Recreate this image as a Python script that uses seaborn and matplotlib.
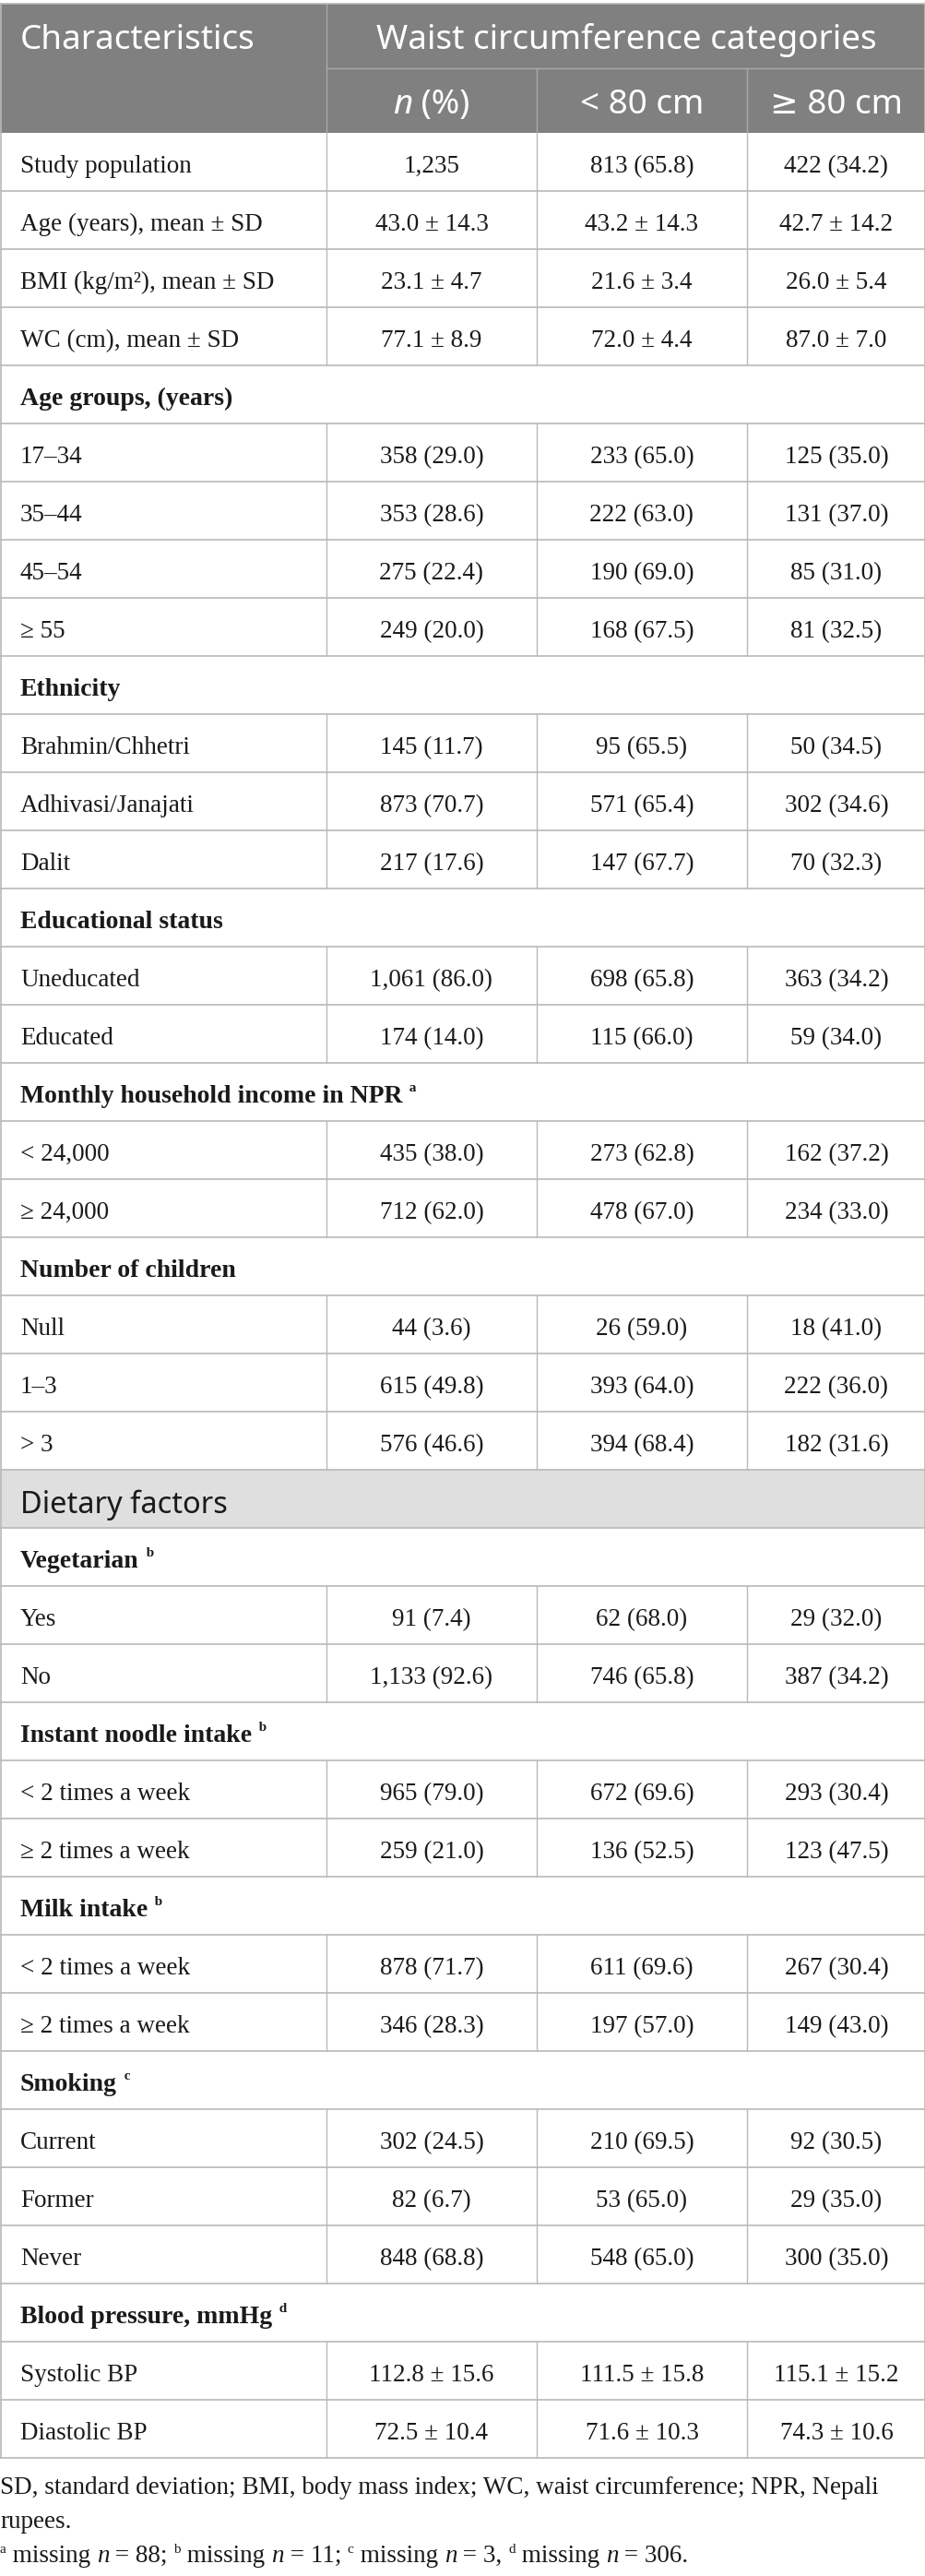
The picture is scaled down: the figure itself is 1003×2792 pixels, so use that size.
import matplotlib
matplotlib.use("Agg")
import matplotlib.pyplot as plt
import seaborn as sns

# table content, one entry per body row
labels = ["Study population", "Age (years), mean ± SD", "BMI (kg/m²), mean ± SD", "WC (cm), mean ± SD",
          "Age groups, (years)", "17–34", "35–44", "45–54", "≥ 55",
          "Ethnicity", "Brahmin/Chhetri", "Adhivasi/Janajati", "Dalit",
          "Educational status", "Uneducated", "Educated",
          "Monthly household income in NPR", "< 24,000", "≥ 24,000",
          "Number of children", "Null", "1–3", "> 3",
          "Dietary factors",
          "Vegetarian", "Yes", "No",
          "Instant noodle intake", "< 2 times a week", "≥ 2 times a week",
          "Milk intake", "< 2 times a week", "≥ 2 times a week",
          "Smoking", "Current", "Former", "Never",
          "Blood pressure, mmHg", "Systolic BP", "Diastolic BP"]

# d = data row, s = bold section row, b = grey band row
kinds = ["d", "d", "d", "d", "s", "d", "d", "d", "d", "s", "d", "d", "d", "s", "d", "d",
         "s", "d", "d", "s", "d", "d", "d", "b", "s", "d", "d", "s", "d", "d", "s", "d", "d",
         "s", "d", "d", "d", "s", "d", "d"]

notes = {"Monthly household income in NPR": "a", "Vegetarian": "b", "Instant noodle intake": "b",
         "Milk intake": "b", "Smoking": "c", "Blood pressure, mmHg": "d"}

n_pct = ["1,235", "43.0 ± 14.3", "23.1 ± 4.7", "77.1 ± 8.9", "",
         "358 (29.0)", "353 (28.6)", "275 (22.4)", "249 (20.0)", "",
         "145 (11.7)", "873 (70.7)", "217 (17.6)", "",
         "1,061 (86.0)", "174 (14.0)", "",
         "435 (38.0)", "712 (62.0)", "",
         "44 (3.6)", "615 (49.8)", "576 (46.6)", "", "",
         "91 (7.4)", "1,133 (92.6)", "",
         "965 (79.0)", "259 (21.0)", "",
         "878 (71.7)", "346 (28.3)", "",
         "302 (24.5)", "82 (6.7)", "848 (68.8)", "",
         "112.8 ± 15.6", "72.5 ± 10.4"]

lt80 = ["813 (65.8)", "43.2 ± 14.3", "21.6 ± 3.4", "72.0 ± 4.4", "",
        "233 (65.0)", "222 (63.0)", "190 (69.0)", "168 (67.5)", "",
        "95 (65.5)", "571 (65.4)", "147 (67.7)", "",
        "698 (65.8)", "115 (66.0)", "",
        "273 (62.8)", "478 (67.0)", "",
        "26 (59.0)", "393 (64.0)", "394 (68.4)", "", "",
        "62 (68.0)", "746 (65.8)", "",
        "672 (69.6)", "136 (52.5)", "",
        "611 (69.6)", "197 (57.0)", "",
        "210 (69.5)", "53 (65.0)", "548 (65.0)", "",
        "111.5 ± 15.8", "71.6 ± 10.3"]

ge80 = ["422 (34.2)", "42.7 ± 14.2", "26.0 ± 5.4", "87.0 ± 7.0", "",
        "125 (35.0)", "131 (37.0)", "85 (31.0)", "81 (32.5)", "",
        "50 (34.5)", "302 (34.6)", "70 (32.3)", "",
        "363 (34.2)", "59 (34.0)", "",
        "162 (37.2)", "234 (33.0)", "",
        "18 (41.0)", "222 (36.0)", "182 (31.6)", "", "",
        "29 (32.0)", "387 (34.2)", "",
        "293 (30.4)", "123 (47.5)", "",
        "267 (30.4)", "149 (43.0)", "",
        "92 (30.5)", "29 (35.0)", "300 (35.0)", "",
        "115.1 ± 15.2", "74.3 ± 10.6"]

sub_headers = ["< 80 cm", "≥ 80 cm"]
footnote1 = "SD, standard deviation; BMI, body mass index; WC, waist circumference; NPR, Nepali"
footnote2 = "rupees."

sns.set_theme(style="white")
plt.rcParams["font.family"] = ["Liberation Serif", "DejaVu Serif"]

W, H = 1004, 2792
fig = plt.figure(figsize=(W / 100, H / 100), dpi=100)
ax = fig.add_axes([0, 0, 1, 1])
ax.set_xlim(0, W)
ax.set_ylim(H, 0)
ax.axis("off")
rend = fig.canvas.get_renderer()

HEAD_BG = "#7f807f"
BAND_BG = "#e0dfe0"
LINE = "#b9b9b9"
HEAD_LINE = "#a9a9a9"
SANS = ["Noto Sans", "DejaVu Sans"]
SERIF = ["Liberation Serif", "DejaVu Serif"]
BODY = 19.5

cols = [0, 354, 582, 810, W]
top, head_mid, head_bot = 4, 74, 144
row_h = 63.0


def runs(x, y, parts, ha="left"):
    # parts: (text, text kwargs, vertical offset)
    arts, widths = [], []
    for s, kw, dy in parts:
        t = ax.text(0, y + dy, s, va="baseline", ha="left", **kw)
        widths.append(t.get_window_extent(renderer=rend).width)
        arts.append(t)
    x0 = x - sum(widths) / 2 if ha == "center" else x
    for t, w in zip(arts, widths):
        t.set_x(x0)
        x0 += w


# header
ax.axhspan(top, head_bot, color=HEAD_BG, lw=0)
hd = dict(family=SANS, fontsize=26.5, color="white")
ax.text(22, 53, "Characteristics", va="baseline", **hd)
ax.text((cols[1] + W) / 2, 53, "Waist circumference categories", va="baseline", ha="center", **hd)
runs((cols[1] + cols[2]) / 2, 123, [("n", dict(hd, fontstyle="italic"), 0), (" (%)", hd, 0)], ha="center")
for i, s in enumerate(sub_headers):
    ax.text((cols[i + 2] + cols[i + 3]) / 2, 123, s, va="baseline", ha="center", **hd)
ax.plot([cols[1], W], [head_mid, head_mid], color=HEAD_LINE, lw=1)
ax.plot([cols[1], cols[1]], [top, head_bot], color=HEAD_LINE, lw=1)
for c in cols[2:4]:
    ax.plot([c, c], [head_mid, head_bot], color=HEAD_LINE, lw=1)

# body rows
body = dict(family=SERIF, fontsize=BODY, color="#1a1a1a")
for i, lab in enumerate(labels):
    y0 = head_bot + i * row_h
    base = y0 + 43
    k = kinds[i]
    if k == "b":
        ax.axhspan(y0, y0 + row_h, color=BAND_BG, lw=0)
        ax.text(22, y0 + 47, lab, va="baseline", family=SANS, fontsize=23.5, color="#1a1a1a")
    elif k == "s":
        parts = [(lab, dict(body, fontsize=20, fontweight="bold"), 0)]
        if lab in notes:
            parts.append(("  " + notes[lab], dict(body, fontsize=11, fontweight="bold"), -12))
        runs(22, base, parts)
    else:
        ax.text(22, base, lab, va="baseline", **body)
        for j, col in enumerate([n_pct, lt80, ge80]):
            ax.text((cols[j + 1] + cols[j + 2]) / 2, base, col[i], va="baseline", ha="center", **body)
        for c in cols[1:4]:
            ax.plot([c, c], [y0, y0 + row_h], color=LINE, lw=1)
    ax.plot([0, W], [y0 + row_h, y0 + row_h], color=LINE, lw=1.2)

bottom = head_bot + len(labels) * row_h
ax.plot([0.6, 0.6], [top, bottom], color=LINE, lw=1.2)
ax.plot([W - 0.6, W - 0.6], [top, bottom], color=LINE, lw=1.2)
ax.plot([0, W], [top, top], color=LINE, lw=1.2)

# footnotes
ax.text(0, 2703, footnote1, va="baseline", **body)
ax.text(0, 2740, footnote2, va="baseline", **body)
sup = dict(body, fontsize=11)
it = dict(body, fontstyle="italic")
parts = []
for mark, num in zip("abcd", ["88; ", "11; ", "3, ", "306."]):
    parts += [(mark, sup, -10), (" missing ", body, 0), ("n", it, 0), (" = " + num, body, 0)]
runs(0, 2777, parts)

fig.savefig("out.png", dpi=100, facecolor="white")
